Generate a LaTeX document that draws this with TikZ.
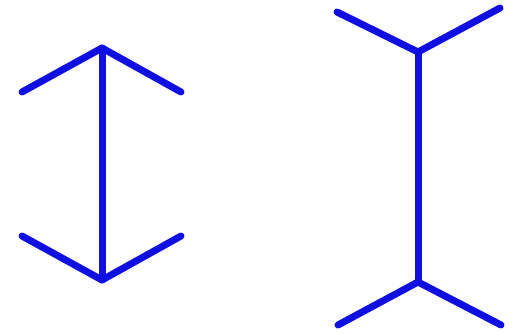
\documentclass[tikz,border=0pt]{standalone}
\begin{document}
\begin{tikzpicture}[x=1pt,y=-1pt,
  fin/.style={draw={rgb,255:red,15;green,15;blue,225},line width=7pt,line cap=round,line join=round}]
\useasboundingbox (0,0) rectangle (514,334);
% left figure
\coordinate (la) at (102,48);
\coordinate (lb) at (102,280);
\coordinate (la1) at (22,92);
\coordinate (la2) at (181,92);
\coordinate (lb1) at (22,236);
\coordinate (lb2) at (181,236);
\draw[fin] (la1) -- (la) -- (la2);
\draw[fin] (la) -- (lb);
\draw[fin] (lb1) -- (lb) -- (lb2);
% right figure
\coordinate (ra) at (418,52);
\coordinate (rb) at (418,282);
\coordinate (ra1) at (337,12);
\coordinate (ra2) at (500,8);
\coordinate (rb1) at (338,325);
\coordinate (rb2) at (501,325);
\draw[fin] (ra1) -- (ra) -- (ra2);
\draw[fin] (ra) -- (rb);
\draw[fin] (rb1) -- (rb) -- (rb2);
\end{tikzpicture}
\end{document}
